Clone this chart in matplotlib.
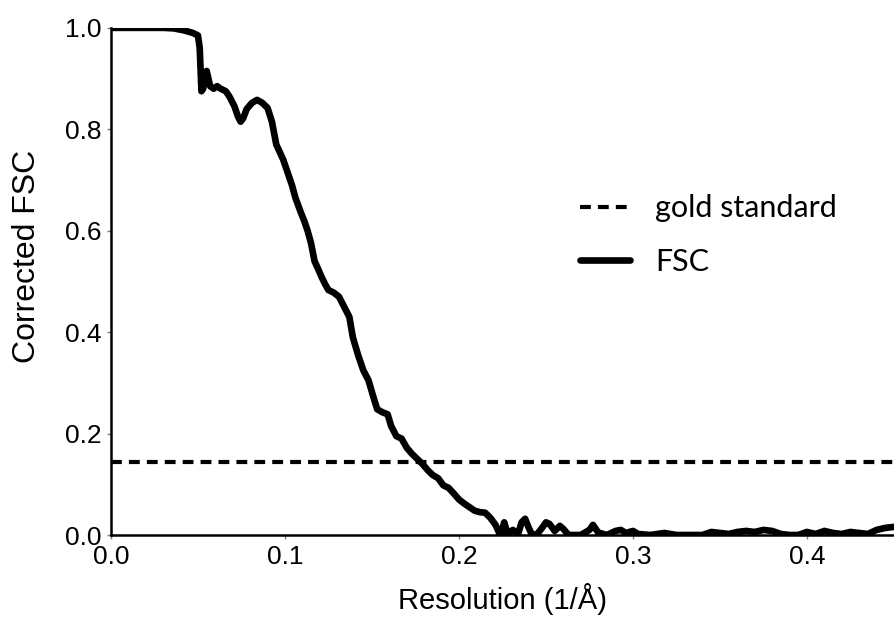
import numpy as np
import matplotlib
matplotlib.use('Agg')
import matplotlib.pyplot as plt

# FSC curve
resolution = [0.000, 0.010, 0.020, 0.030, 0.036, 0.042, 0.047, 0.050, 0.051, 0.052,
              0.053, 0.054, 0.055, 0.056, 0.057, 0.059, 0.061, 0.063, 0.066, 0.068,
              0.071, 0.073, 0.0745, 0.076, 0.078, 0.081, 0.084, 0.087, 0.090, 0.0925,
              0.095, 0.097, 0.099, 0.102, 0.104, 0.106, 0.109, 0.111, 0.113, 0.115,
              0.117, 0.119, 0.121, 0.123, 0.125, 0.128, 0.131, 0.134, 0.137, 0.139,
              0.142, 0.145, 0.148, 0.151, 0.153, 0.156, 0.159, 0.161, 0.164, 0.167,
              0.170, 0.173, 0.176, 0.179, 0.182, 0.185, 0.188, 0.191, 0.194, 0.197,
              0.200, 0.203, 0.206, 0.209, 0.212, 0.215, 0.218, 0.221, 0.223, 0.224,
              0.226, 0.228, 0.231, 0.234, 0.236, 0.238, 0.240, 0.242, 0.245, 0.248,
              0.250, 0.252, 0.255, 0.258, 0.260, 0.263, 0.270, 0.275, 0.277, 0.280,
              0.285, 0.290, 0.293, 0.296, 0.300, 0.303, 0.310, 0.318, 0.325, 0.340,
              0.345, 0.350, 0.355, 0.360, 0.365, 0.370, 0.375, 0.380, 0.385, 0.390,
              0.395, 0.400, 0.405, 0.410, 0.415, 0.420, 0.425, 0.430, 0.435, 0.440,
              0.445, 0.450]
fsc = [1.000, 1.000, 1.000, 1.000, 0.999, 0.995, 0.990, 0.985, 0.960, 0.875,
       0.880, 0.905, 0.915, 0.900, 0.885, 0.880, 0.885, 0.880, 0.875, 0.865,
       0.845, 0.825, 0.815, 0.822, 0.840, 0.852, 0.858, 0.852, 0.842, 0.815,
       0.770, 0.755, 0.740, 0.710, 0.690, 0.665, 0.637, 0.620, 0.600, 0.575,
       0.540, 0.525, 0.509, 0.495, 0.483, 0.478, 0.470, 0.450, 0.430, 0.390,
       0.355, 0.325, 0.305, 0.270, 0.248, 0.242, 0.238, 0.215, 0.195, 0.190,
       0.172, 0.160, 0.150, 0.140, 0.128, 0.118, 0.112, 0.098, 0.093, 0.082,
       0.070, 0.062, 0.055, 0.048, 0.045, 0.044, 0.034, 0.020, 0.005, 0.000,
       0.025, 0.002, 0.010, 0.002, 0.025, 0.032, 0.015, 0.000, 0.002, 0.015,
       0.025, 0.022, 0.008, 0.018, 0.012, 0.000, 0.000, 0.010, 0.020, 0.005,
       0.000, 0.008, 0.010, 0.004, 0.008, 0.002, 0.000, 0.004, 0.000, 0.000,
       0.006, 0.004, 0.002, 0.006, 0.008, 0.006, 0.010, 0.008, 0.002, 0.000,
       0.000, 0.006, 0.002, 0.008, 0.004, 0.002, 0.006, 0.004, 0.002, 0.010,
       0.014, 0.016]
gold_standard = 0.143

xticks = [0.0, 0.1, 0.2, 0.3, 0.4]
yticks = [0.0, 0.2, 0.4, 0.6, 0.8, 1.0]

plt.rcParams['font.family'] = ['Liberation Sans', 'DejaVu Sans']

fig = plt.figure(figsize=(8.95, 6.19), dpi=100)
ax = fig.add_axes([0.124, 0.1357, 0.876, 0.8193])

ax.axhline(gold_standard, color='black', lw=3, dashes=(2.6, 1.7), label='gold standard')
ax.plot(resolution, fsc, color='black', lw=4.8, solid_joinstyle='round',
        solid_capstyle='round', label='FSC')

ax.set_xlim(0, 0.4506)
ax.set_ylim(0, 1.0)
ax.set_xticks(xticks)
ax.set_yticks(yticks)
ax.set_xticklabels(['%.1f' % t for t in xticks])
ax.set_yticklabels(['%.1f' % t for t in yticks])
ax.tick_params(length=3, width=1, color='grey', labelsize=19, pad=4)

for s in ['top', 'right']:
    ax.spines[s].set_visible(False)
ax.spines['left'].set_linewidth(1.8)
ax.spines['bottom'].set_linewidth(1.8)

ax.set_xlabel('Resolution (1/Å)', fontsize=21, labelpad=10)
ax.set_ylabel('Corrected FSC', fontsize=23)
ax.yaxis.set_label_coords(-0.088, 0.55)

leg = ax.legend(loc='upper left', bbox_to_anchor=(0.598, 0.672), frameon=False,
                prop={'family': 'Lato', 'size': 22}, handlelength=1.64,
                handletextpad=0.82, labelspacing=0.85, borderpad=0, borderaxespad=0)

fig.savefig('out.png', dpi=100)
